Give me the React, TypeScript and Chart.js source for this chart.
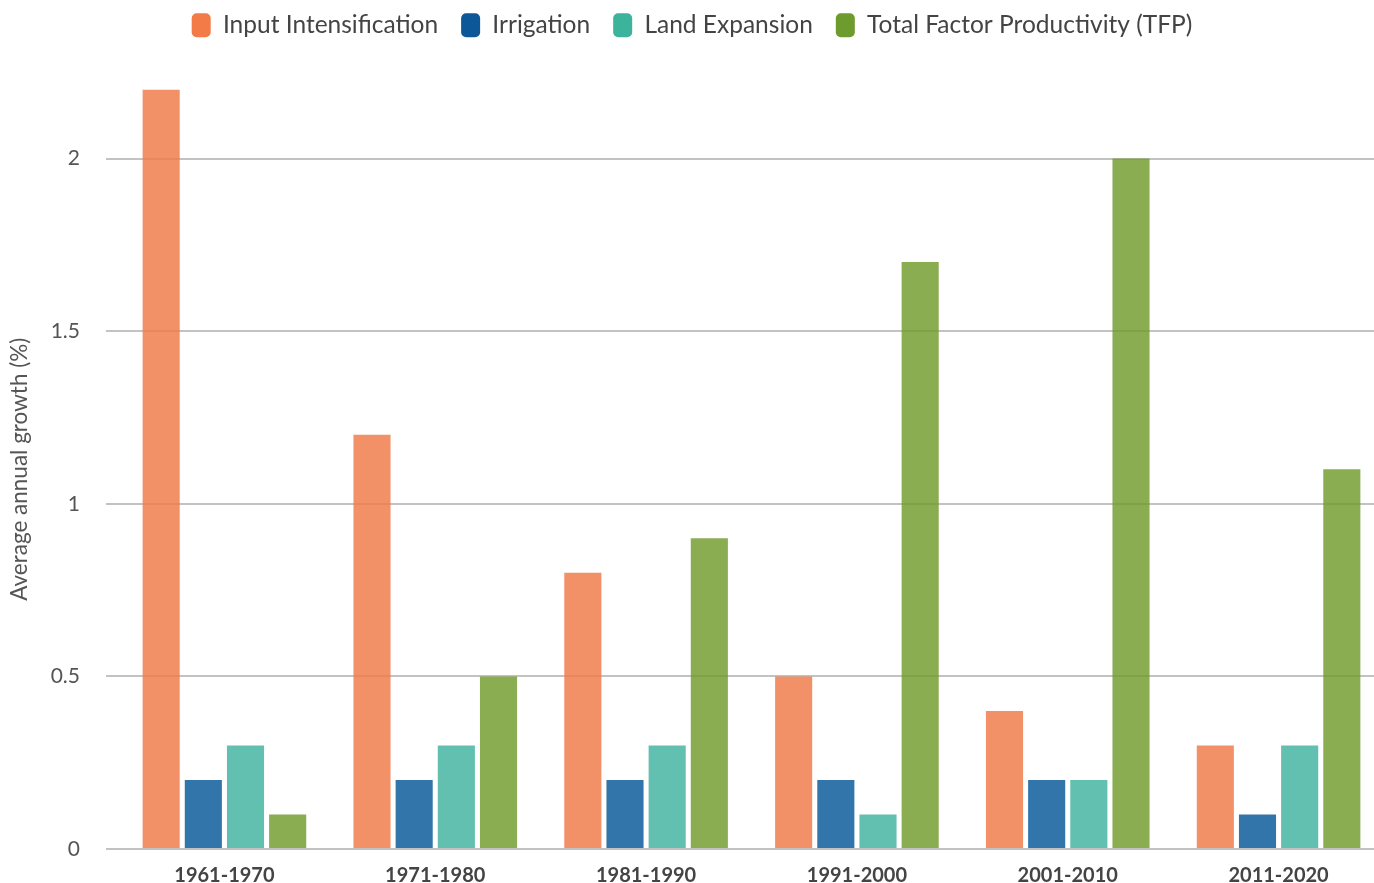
import React, { useEffect, useRef } from "react";
import { Chart, registerables } from "chart.js";

Chart.register(...registerables);

const categories = ["1961-1970", "1971-1980", "1981-1990", "1991-2000", "2001-2010", "2011-2020"];
const inputIntensification = [2.2, 1.2, 0.8, 0.5, 0.4, 0.3];
const irrigation = [0.2, 0.2, 0.2, 0.2, 0.2, 0.1];
const landExpansion = [0.3, 0.3, 0.3, 0.1, 0.2, 0.3];
const tfp = [0.1, 0.5, 0.9, 1.7, 2.0, 1.1];

const seriesNames = [
  "Input Intensification",
  "Irrigation",
  "Land Expansion",
  "Total Factor Productivity (TFP)",
];
const seriesColors = ["#F27B47", "#0B5797", "#3CB49C", "#6E9B2D"];
const seriesBarColors = [
  "rgba(240,124,74,0.84)",
  "rgba(11,90,154,0.84)",
  "rgba(62,178,157,0.82)",
  "rgba(112,155,44,0.82)",
];

const yTickStep = 0.5;
const yAxisMax = 2.2;
const yTitle = "Average annual growth (%)";

const FONT = "Lato, 'Open Sans', sans-serif";

// legend: extra gap below it, and drawn a little higher
const legendGapPlugin = {
  id: "legendGap",
  beforeLayout(chart: any) {
    const lg = chart.legend;
    if (lg && !lg.__gapPatched) {
      const orig = lg.fit.bind(lg);
      lg.fit = function () {
        orig();
        this.height += 32;
      };
      lg.__gapPatched = true;
    }
  },
  afterLayout(chart: any) {
    const lg = chart.legend;
    if (lg) {
      lg.top -= 10;
      lg.bottom -= 10;
    }
  },
};

export default function App() {
  const ref = useRef<HTMLCanvasElement | null>(null);

  useEffect(() => {
    if (!ref.current) return;
    const values = [inputIntensification, irrigation, landExpansion, tfp];
    const chart = new Chart(ref.current, {
      type: "bar",
      data: {
        labels: categories,
        datasets: values.map((v, i) => ({
          label: seriesNames[i],
          data: v,
          backgroundColor: seriesBarColors[i],
          borderWidth: 0,
          categoryPercentage: 0.8,
          barPercentage: 0.88,
        })),
      },
      plugins: [legendGapPlugin],
      options: {
        animation: false,
        responsive: false,
        layout: { padding: 0 },
        plugins: {
          tooltip: { enabled: false },
          legend: {
            position: "top",
            labels: {
              boxWidth: 19,
              boxHeight: 24,
              useBorderRadius: true,
              borderRadius: 5,
              padding: 23,
              color: "#444",
              font: { family: FONT, size: 24.5 },
              generateLabels: (c: any) =>
                c.data.datasets.map((ds: any, i: number) => ({
                  text: ds.label,
                  fillStyle: seriesColors[i],
                  strokeStyle: seriesColors[i],
                  lineWidth: 0,
                  hidden: false,
                  datasetIndex: i,
                  borderRadius: 5,
                  fontColor: "#444",
                })),
            },
          },
        },
        scales: {
          x: {
            grid: { display: false, drawTicks: false },
            border: { display: false },
            ticks: {
              color: "#444",
              padding: 15,
              font: { family: FONT, size: 20, weight: "bold" },
            },
            afterFit: (s: any) => {
              s.height = 34;
            },
          },
          y: {
            min: 0,
            max: yAxisMax,
            border: { display: false },
            grid: {
              color: "#c2c2c2",
              lineWidth: 2,
              tickLength: 13,
              tickColor: "#c2c2c2",
            },
            ticks: {
              stepSize: yTickStep,
              includeBounds: false,
              color: "#555",
              padding: 26,
              font: { family: FONT, size: 21 },
              callback: (v: any) => String(Number(v)),
            },
            title: {
              display: true,
              text: yTitle,
              color: "#555",
              padding: { top: 6, bottom: 0 },
              font: { family: FONT, size: 22.5 },
            },
            afterFit: (s: any) => {
              s.width = 119;
              s.paddingTop = 12;
              s.paddingBottom = 12;
            },
          },
        },
      },
    });
    return () => chart.destroy();
  }, []);

  return (
    <div
      style={{
        position: "fixed",
        left: 0,
        top: 0,
        width: 1374,
        height: 883,
        overflow: "hidden",
        background: "#fff",
      }}
    >
      <canvas ref={ref} width={1384} height={883} style={{ width: 1384, height: 883, display: "block" }} />
    </div>
  );
}
